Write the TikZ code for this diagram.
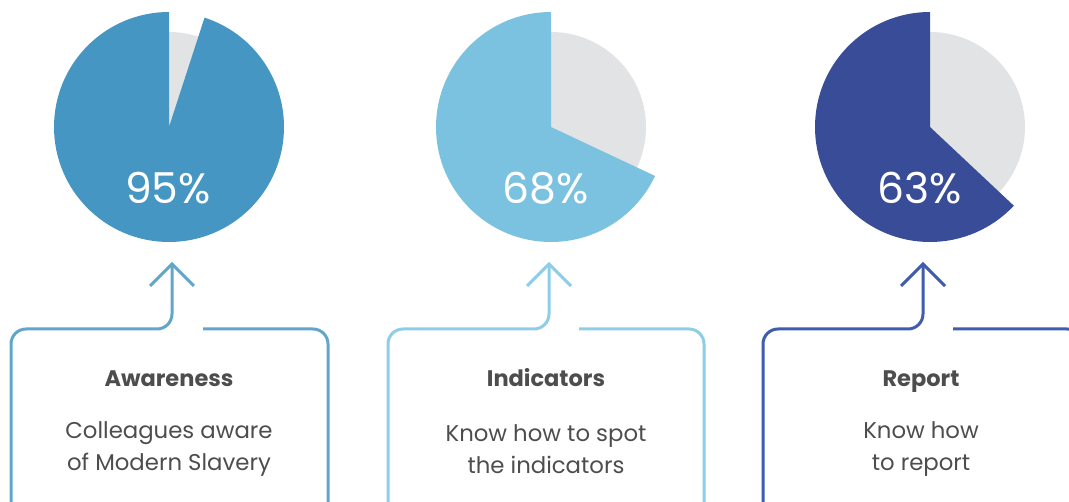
\documentclass[tikz,border=0pt]{standalone}
\usepackage{fontspec}
\setmainfont{Poppins}
\usepackage{xcolor}
\definecolor{piegray}{HTML}{E2E3E5}
\definecolor{txtgray}{HTML}{4D4D4D}
\definecolor{awblue}{HTML}{4596C3}
\definecolor{awline}{HTML}{62A5CB}
\definecolor{inblue}{HTML}{7AC2E0}
\definecolor{inline}{HTML}{8DCDE7}
\definecolor{reblue}{HTML}{394C97}
\definecolor{reline}{HTML}{3F5CAE}
\tikzset{
  pct/.style={text=white,font=\fontsize{42.5}{42.5}\selectfont},
  head/.style={text=txtgray,anchor=base,font=\bfseries\fontsize{22.5}{22.5}\selectfont},
  body/.style={text=txtgray,align=center,font=\fontsize{22.8}{32}\selectfont}
}

\begin{document}
\begin{tikzpicture}[x=1pt,y=1pt,line width=3pt]
\useasboundingbox (0,0) rectangle (1069,-502);
\clip (0,0) rectangle (1069,-502);
% awareness
\coordinate (aw) at (169,-127);
\fill[piegray](aw)circle(95);
\fill[awblue](aw)--++(90:115)arc[start angle=90,end angle=432,radius=115]--cycle;
\node[pct] (awpct) at (168,-188){95\%};
\coordinate (awtip) at (172,-264);
\draw[awline,rounded corners=15](awtip)--(172,-329)--(11,-329)--(11,-520);
\draw[awline,rounded corners=15](203,-329)--(328,-329)--(328,-520);
\draw[awline](150,-286)--(awtip)--(194,-286);
\node[head] (awhead) at (169,-387){Awareness};
\node[body] (awtext) at (169,-449){Colleagues aware\\of Modern Slavery};
% indicators
\coordinate (in) at (551,-127);
\fill[piegray](in)circle(95);
\fill[inblue](in)--++(90:115)arc[start angle=90,end angle=334.8,radius=115]--cycle;
\node[pct] (inpct) at (546,-188){68\%};
\coordinate (intip) at (549,-264);
\draw[inline,rounded corners=15](intip)--(549,-329)--(388,-329)--(388,-520);
\draw[inline,rounded corners=15](579,-329)--(704,-329)--(704,-520);
\draw[inline](527,-286)--(intip)--(571,-286);
\node[head] (inhead) at (546,-387){Indicators};
\node[body] (intext) at (546,-449){Know how to spot\\the indicators};
% report
\coordinate (re) at (930,-127);
\fill[piegray](re)circle(95);
\fill[reblue](re)--++(90:115)arc[start angle=90,end angle=316.8,radius=115]--cycle;
\node[pct] (repct) at (920,-188){63\%};
\coordinate (retip) at (923,-264);
\draw[reline,rounded corners=15](retip)--(923,-329)--(763,-329)--(763,-520);
\draw[reline,rounded corners=15](953,-329)--(1082,-329)--(1082,-520);
\draw[reline](901,-286)--(retip)--(945,-286);
\node[head] (rehead) at (921,-387){Report};
\node[body] (retext) at (921,-449){Know how\\to report};
\end{tikzpicture}
\end{document}
